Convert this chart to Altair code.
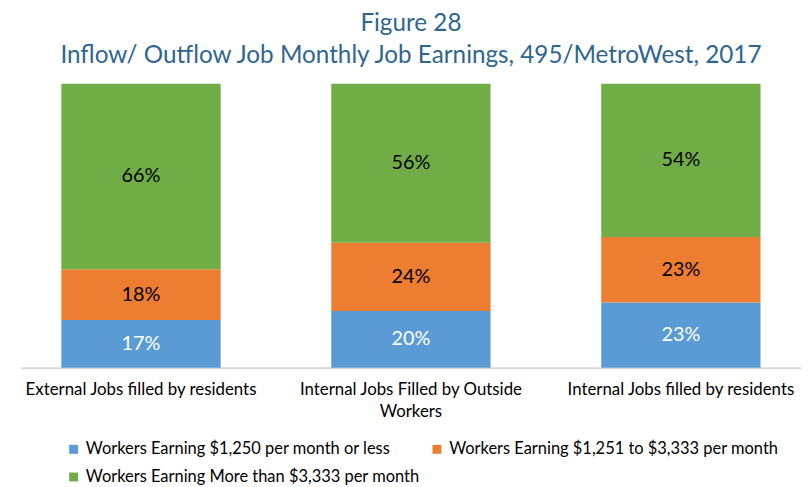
import altair as alt
import pandas as pd

categories = ["External Jobs filled by residents",
              "Internal Jobs Filled by Outside Workers",
              "Internal Jobs filled by residents"]
series = ["Workers Earning $1,250 per month or less",
          "Workers Earning $1,251 to $3,333 per month",
          "Workers Earning More than $3,333 per month"]
low = [17, 20, 23]
mid = [18, 24, 23]
high = [66, 56, 54]
colors = ["#5B9BD5", "#ED7D31", "#70AD47"]
text_colors = ["white", "black", "black"]

rows = []
for i, c in enumerate(categories):
    for j, (s, vals) in enumerate(zip(series, [low, mid, high])):
        rows.append({"category": c, "series": s, "value": vals[i], "order": j,
                     "tcolor": text_colors[j]})
df = pd.DataFrame(rows)

base = alt.Chart(df).transform_stack(
    stack="value", groupby=["category"], as_=["y0", "y1"],
    offset="normalize", sort=[alt.SortField("order", order="ascending")]
).transform_calculate(
    ymid="(datum.y0 + datum.y1) / 2",
    lbl="datum.value + '%'"
)

xenc = alt.X("category:N", sort=categories, title=None,
             scale=alt.Scale(paddingInner=0.41, paddingOuter=0.15),
             axis=alt.Axis(labelAngle=0, labelFontSize=17, labelColor="black",
                           labelFont="Lato", ticks=False, domainColor="#D9D9D9",
                           domainWidth=2,
                           labelPadding=14, labelLineHeight=22, labelLimit=300,
                           labelExpr="datum.label == 'Internal Jobs Filled by Outside Workers' ? ['Internal Jobs Filled by Outside', 'Workers'] : datum.label"))

bars = base.mark_bar().encode(
    x=xenc,
    y=alt.Y("y0:Q", axis=None, scale=alt.Scale(domain=[0, 1])),
    y2="y1:Q",
    color=alt.Color("series:N", sort=series,
                    scale=alt.Scale(domain=series, range=colors),
                    legend=alt.Legend(title=None, orient="none", columns=2,
                                      direction="horizontal",
                                      legendX=45, legendY=361,
                                      symbolType="square", symbolSize=81,
                                      symbolStrokeWidth=0, labelOffset=4,
                                      labelFontSize=16.6, labelFont="Lato",
                                      labelColor="black", labelLimit=400,
                                      columnPadding=9, rowPadding=11)),
)

texts = base.mark_text(fontSize=20, font="Lato").encode(
    x=alt.X("category:N", sort=categories),
    y=alt.Y("ymid:Q"),
    text="lbl:N",
    color=alt.Color("tcolor:N", scale=None, legend=None),
)

chart = alt.layer(bars, texts).properties(
    width=788, height=287,
    padding={"left": 13, "right": 0, "top": 0, "bottom": 0},
    title=alt.TitleParams(["Figure 28",
                           "Inflow/ Outflow Job Monthly Job Earnings, 495/MetroWest, 2017"],
                          fontSize=24.5, font="Lato", fontWeight="normal",
                          color="#2F6690", lineHeight=33, anchor="middle",
                          offset=12, dy=-3)
).configure_view(stroke=None)

chart.save("out.html", embed_options={"renderer": "svg", "actions": False})
